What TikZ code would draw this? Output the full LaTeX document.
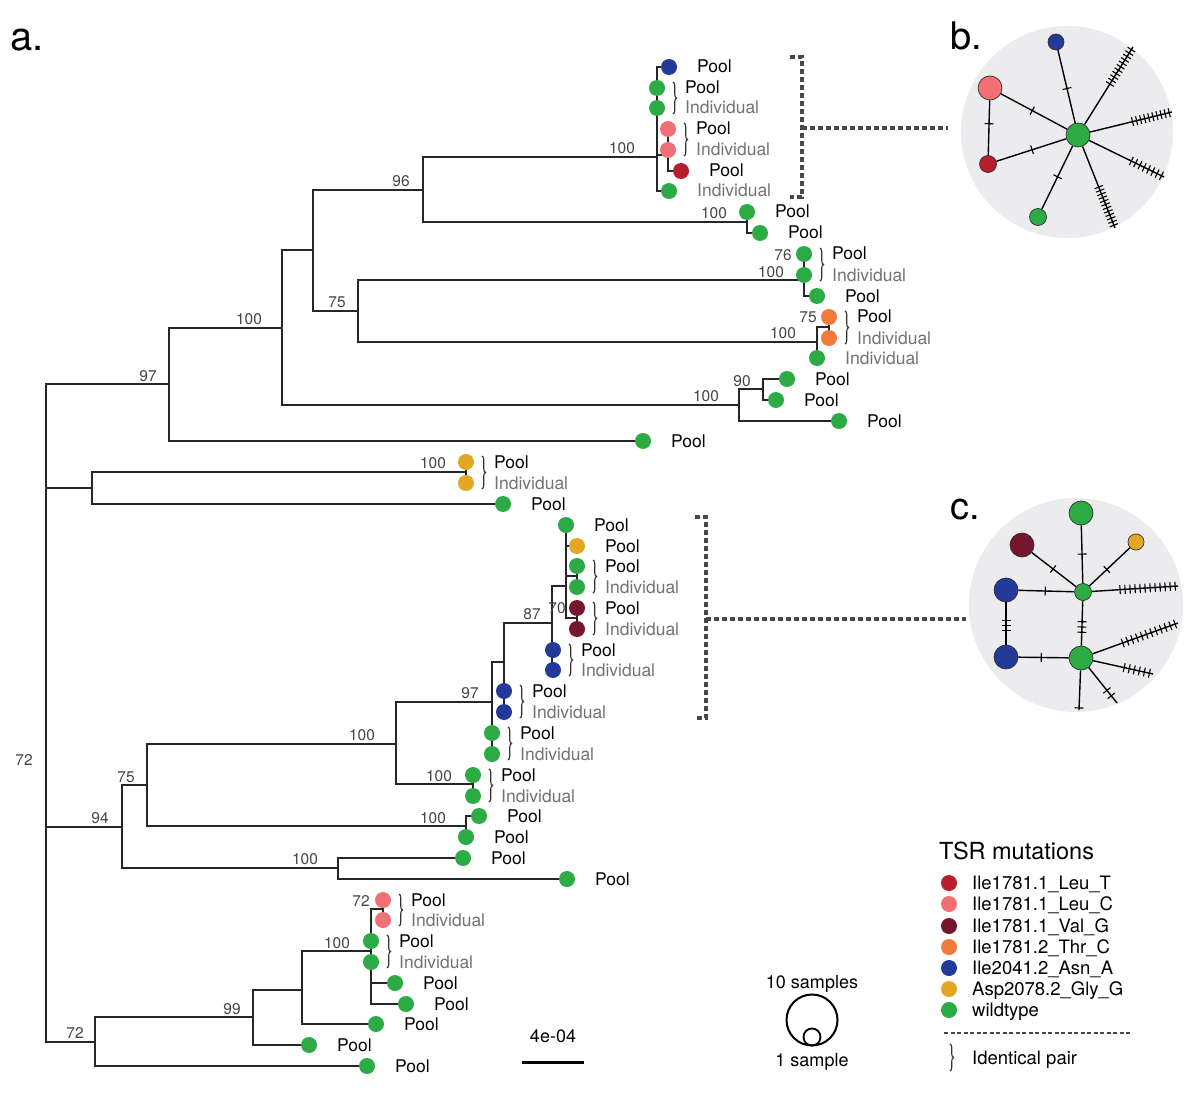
\documentclass[tikz,border=0pt]{standalone}
\usepackage{fontspec}
\setmainfont{TeX Gyre Heros}
\usetikzlibrary{calc,decorations.pathreplacing}
\definecolor{cgreen}{RGB}{44,170,68}
\definecolor{cblue}{RGB}{36,58,152}
\definecolor{cpink}{RGB}{240,112,118}
\definecolor{cred}{RGB}{183,30,45}
\definecolor{cdred}{RGB}{118,22,45}
\definecolor{corange}{RGB}{240,122,58}
\definecolor{cyellow}{RGB}{226,168,35}
\definecolor{bsgray}{RGB}{70,70,70}
\definecolor{indgray}{RGB}{115,115,115}
\definecolor{panelbg}{RGB}{236,235,237}
\definecolor{dashgray}{RGB}{70,70,70}
\newcommand\hatch[5]{%
  \foreach \hk in {1,...,#5}{%
    \pgfmathsetmacro\hfr{#3+(\hk-1)*(#4-#3)/max(#5-1,1)}%
    \draw[hatchline] ($(#1)!\hfr!(#2)!4.5pt!90:(#2)$) -- ($(#1)!\hfr!(#2)!4.5pt!-90:(#2)$);
  }}
\begin{document}
\begin{tikzpicture}[x=1pt,y=-1pt,
  branch/.style={draw=black!85, line width=1.4pt, line cap=rect},
  leafdot/.style={circle, minimum size=16pt, inner sep=0pt, draw=none},
  pooltxt/.style={anchor=base west, font=\fontsize{17.5}{20}\selectfont, text=black, inner sep=0pt},
  indtxt/.style={pooltxt, text=indgray},
  bstxt/.style={anchor=base, font=\fontsize{15.5}{17}\selectfont, text=bsgray, inner sep=0pt},
  idbrace/.style={decorate, decoration={brace, amplitude=3.5pt}, draw=black!80, line width=1.1pt},
  dashbr/.style={draw=dashgray, line width=3.6pt, dash pattern=on 5pt off 3pt},
  netedge/.style={draw=black, line width=1.4pt},
  hatchline/.style={draw=black, line width=1.1pt},
  netnode/.style={circle, draw=black!80, line width=0.7pt, inner sep=0pt},
  panelletter/.style={font=\fontsize{38}{40}\selectfont, anchor=base west, inner sep=0pt},
  legtxt/.style={font=\fontsize{18.5}{20}\selectfont, anchor=base west, inner sep=0pt},
  ctxt/.style={font=\fontsize{18}{20}\selectfont, anchor=base, inner sep=0pt}]
\useasboundingbox (0,0) rectangle (1200,1102);
\fill[white] (0,0) rectangle (1200,1102);

% ---------- tree coordinates ----------
\foreach \n/\x/\y in {R/46/713, N97/169/384, N2/92/488, N94/122/827, N72/95/1042,
  N100a/282/328, Nx/313/250, N96/423/190, N100top/657/157, Npink/668/155,
  N100c/747/222, N75a/358/311, N100d/804/280, N100e/817/342, N75b/829/327,
  N100b/739/405, N90/763/389, N100f/466/472, N75c/147/785, N100g/338/868,
  N100h/396/744, N97b/492/702, Nb2/504/662, N87/552/623, Nd/566/586,
  N25/577/576, N70/577/618, N100j/473/784, N100i/466/826, N99/253/1017,
  Ny/302/990, N100k/371/951, N72b/383/909,
  L1/669/67, L2/657/88, L3/657/108, L4/668/129, L5/668/150, L6/681/171, L7/669/191,
  L8/747/212, L9/760/233, L10/804/254, L11/804/275, L12/817/296, L13/829/317,
  L14/829/338, L15/817/358, L16/787/379, L17/776/400, L18/839/421, L19/643/441,
  L20/466/462, L21/466/483, L22/503/504, L23/566/525, L24/577/546, L25/577/566,
  L26/577/587, L27/577/608, L28/577/629, L29/553/650, L30/553/670, L31/504/691,
  L32/504/712, L33/492/733, L34/492/754, L35/473/775, L36/473/796, L37/479/816,
  L38/466/837, L39/463/858, L40/567/879, L41/383/900, L42/383/920, L43/371/941,
  L44/371/962, L45/395/983, L46/406/1004, L47/376/1024, L48/309/1045, L49/367/1066}
  \coordinate (\n) at (\x,\y);

% ---------- tree branches ----------
\foreach \p/\c in {R/N97, R/N2, R/N94, R/N72,
  N97/N100a, N97/L19, N100a/Nx, N100a/N100b, Nx/N96, Nx/N75a,
  N96/N100top, N96/N100c,
  N100top/L1, N100top/L2, N100top/L3, N100top/Npink, N100top/L7,
  Npink/L4, Npink/L5, Npink/L6, N100c/L8, N100c/L9,
  N75a/N100d, N75a/N100e, N100d/L10, N100d/L11, N100d/L12,
  N100e/N75b, N100e/L15, N75b/L13, N75b/L14,
  N100b/N90, N100b/L18, N90/L16, N90/L17,
  N2/N100f, N2/L22, N100f/L20, N100f/L21,
  N94/N75c, N94/N100g, N75c/N100h, N75c/N100i,
  N100h/N97b, N100h/N100j, N97b/Nb2, N97b/L33, N97b/L34,
  Nb2/N87, Nb2/L31, Nb2/L32, N87/Nd, N87/L29, N87/L30,
  Nd/L23, Nd/L24, Nd/N25, Nd/N70, N25/L25, N25/L26, N70/L27, N70/L28,
  N100j/L35, N100j/L36, N100i/L37, N100i/L38, N100g/L39, N100g/L40,
  N72/N99, N72/L49, N99/Ny, N99/L48, Ny/N100k, Ny/L47,
  N100k/N72b, N100k/L43, N100k/L44, N100k/L45, N100k/L46,
  N72b/L41, N72b/L42}
  \draw[branch] (\p) |- (\c);

% ---------- leaf dots ----------
\foreach \n/\c in {L1/cblue, L2/cgreen, L3/cgreen, L4/cpink, L5/cpink, L6/cred, L7/cgreen,
  L8/cgreen, L9/cgreen, L10/cgreen, L11/cgreen, L12/cgreen, L13/corange, L14/corange,
  L15/cgreen, L16/cgreen, L17/cgreen, L18/cgreen, L19/cgreen, L20/cyellow, L21/cyellow,
  L22/cgreen, L23/cgreen, L24/cyellow, L25/cgreen, L26/cgreen, L27/cdred, L28/cdred,
  L29/cblue, L30/cblue, L31/cblue, L32/cblue, L33/cgreen, L34/cgreen, L35/cgreen,
  L36/cgreen, L37/cgreen, L38/cgreen, L39/cgreen, L40/cgreen, L41/cpink, L42/cpink,
  L43/cgreen, L44/cgreen, L45/cgreen, L46/cgreen, L47/cgreen, L48/cgreen, L49/cgreen}
  \node[leafdot, fill=\c] (d\n) at (\n) {};

% ---------- leaf labels ----------
\foreach \n in {L1,L2,L4,L6,L8,L9,L10,L12,L13,L16,L17,L18,L19,L20,L22,L23,L24,L25,L27,
  L29,L31,L33,L35,L37,L38,L39,L40,L41,L43,L45,L46,L47,L48,L49}
  \node[pooltxt] (t\n) at ($(\n)+(28,6)$) {Pool};
\foreach \n in {L3,L5,L7,L11,L14,L15,L21,L26,L28,L30,L32,L34,L36,L42,L44}
  \node[indtxt] (t\n) at ($(\n)+(28,6)$) {Individual};

% ---------- identical-pair braces ----------
\foreach \a/\b in {L2/L3, L4/L5, L10/L11, L13/L14, L20/L21, L25/L26, L27/L28,
  L29/L30, L31/L32, L33/L34, L35/L36, L41/L42, L43/L44}
  \draw[idbrace] ($(\a)+(16,-6)$) -- ($(\b)+(16,6)$);

% ---------- bootstrap values ----------
\foreach \x/\y/\t [count=\i] in {622/148/100, 401/181/96, 714/213/100, 783/255/76,
  771/272/100, 337/302/75, 808/317/75, 783/333/100, 249/319/100, 148/376/97,
  742/381/90, 706/396/100, 433/463/100, 532/614/87, 557/608/70, 470/693/97,
  362/735/100, 439/776/100, 126/777/75, 433/818/100, 100/818/94, 305/859/100,
  361/901/72, 337/943/100, 232/1009/99, 75/1033/72, 24/760/72}
  \node[bstxt] (bs\i) at (\x,\y+5.5) {\t};

% ---------- panel letters ----------
\node[panelletter, font=\fontsize{40}{42}\selectfont] (la) at (10,51) {a.};
\node[panelletter] (lb) at (950,50) {b.};
\node[panelletter] (lc) at (950,519) {c.};

% ---------- dashed brackets ----------
\coordinate (bt1) at (790,57); \coordinate (bt2) at (802,57);
\coordinate (bb1) at (790,197); \coordinate (bb2) at (802,197);
\coordinate (bm) at (802,128);
\coordinate (ct1) at (695,517); \coordinate (ct2) at (706,517);
\coordinate (cb1) at (695,718); \coordinate (cb2) at (706,718);
\coordinate (cm) at (706,619);

\node[circle, fill=panelbg, minimum size=212pt, inner sep=0pt] (bpanel) at (1067,132) {};
\node[circle, fill=panelbg, minimum size=214pt, inner sep=0pt] (cpanel) at (1076,605) {};

\draw[dashbr] (bt1) -- (bt2) -- (bb2) -- (bb1);
\draw[dashbr] (bm) -- ($(bm -| bpanel.west)+(-13,0)$);
\draw[dashbr] (ct1) -- (ct2) -- (cb2) -- (cb1);
\draw[dashbr] (cm) -- ($(cm -| cpanel.west)+(-3,0)$);

% ---------- network b ----------
\node[netnode, fill=cgreen, minimum size=24pt] (b0) at (1078,135) {};
\node[netnode, fill=cblue, minimum size=16pt] (bbl) at (1056,42) {};
\node[netnode, fill=cpink, minimum size=24pt] (bpk) at (990,88) {};
\node[netnode, fill=cred, minimum size=17pt] (brd) at (988,164) {};
\node[netnode, fill=cgreen, minimum size=17pt] (bgs) at (1038,217) {};
\coordinate (be1) at (1133,47);
\coordinate (be2) at (1172,112);
\coordinate (be3) at (1164,177);
\coordinate (be4) at (1115,228);
\foreach \u/\v in {b0/bbl, b0/bpk, bpk/brd, b0/brd, b0/bgs, b0/be1, b0/be2, b0/be3, b0/be4}
  \draw[netedge] (\u) -- (\v);
\hatch{b0}{bbl}{0.5}{0.5}{1}
\hatch{b0}{bpk}{0.52}{0.52}{1}
\hatch{bpk}{brd}{0.47}{0.47}{1}
\hatch{b0}{brd}{0.51}{0.51}{1}
\hatch{b0}{bgs}{0.51}{0.51}{1}
\hatch{b0}{be1}{0.58}{0.97}{11}
\hatch{b0}{be2}{0.58}{0.97}{10}
\hatch{b0}{be3}{0.62}{0.97}{8}
\hatch{b0}{be4}{0.56}{0.97}{12}

% ---------- network c ----------
\node[netnode, fill=cgreen, minimum size=17pt] (c0) at (1083,592) {};
\node[netnode, fill=cgreen, minimum size=24pt] (ctp) at (1081,513) {};
\node[netnode, fill=cdred, minimum size=24pt] (cdr) at (1022,545) {};
\node[netnode, fill=cyellow, minimum size=16pt] (cyl) at (1136,542) {};
\node[netnode, fill=cblue, minimum size=24pt] (cbu) at (1006,590) {};
\node[netnode, fill=cblue, minimum size=24pt] (cbd) at (1006,657) {};
\node[netnode, fill=cgreen, minimum size=24pt] (cgl) at (1081,658) {};
\coordinate (ce1) at (1178,586);
\coordinate (ce2) at (1178,623);
\coordinate (ce3) at (1153,674);
\coordinate (ce4) at (1117,703);
\coordinate (ce5) at (1079,710);
\foreach \u/\v in {c0/ctp, c0/cdr, c0/cyl, c0/cbu, c0/cgl, cbu/cbd, cbd/cgl,
  c0/ce1, cgl/ce2, cgl/ce3, cgl/ce4, cgl/ce5}
  \draw[netedge] (\u) -- (\v);
\hatch{c0}{ctp}{0.48}{0.48}{1}
\hatch{c0}{cdr}{0.49}{0.49}{1}
\hatch{c0}{cyl}{0.45}{0.45}{1}
\hatch{c0}{cbu}{0.49}{0.49}{1}
\hatch{c0}{cgl}{0.45}{0.61}{3}
\hatch{cbu}{cbd}{0.45}{0.6}{3}
\hatch{cbd}{cgl}{0.47}{0.47}{1}
\hatch{c0}{ce1}{0.39}{0.97}{12}
\hatch{cgl}{ce2}{0.43}{0.97}{12}
\hatch{cgl}{ce3}{0.6}{0.95}{6}
\hatch{cgl}{ce4}{0.72}{0.84}{2}
\hatch{cgl}{ce5}{0.96}{0.96}{1}

% ---------- legend ----------
\node[font=\fontsize{23.5}{25}\selectfont, anchor=base west, inner sep=0pt] (lgt) at (939,859) {TSR mutations};
\foreach \y/\c/\t [count=\i] in {883/cred/{Ile1781.1\_Leu\_T}, 904/cpink/{Ile1781.1\_Leu\_C},
  926/cdred/{Ile1781.1\_Val\_G}, 947/corange/{Ile1781.2\_Thr\_C},
  968/cblue/{Ile2041.2\_Asn\_A}, 989/cyellow/{Asp2078.2\_Gly\_G}, 1010/cgreen/{wildtype}}{
  \node[leafdot, fill=\c] (lg\i) at (949,\y) {};
  \node[legtxt] (lgt\i) at (972,\y+6.5) {\t};
}
\coordinate (ld1) at (944,1033); \coordinate (ld2) at (1131,1033);
\draw[draw=dashgray, line width=2.6pt, dash pattern=on 4pt off 2.5pt] (ld1) -- (ld2);
\coordinate (lb1) at (950,1044); \coordinate (lb2) at (950,1071);
\draw[idbrace] (lb1) -- (lb2);
\node[legtxt] (lip) at (972,1064) {Identical pair};

% ---------- size legend ----------
\node[circle, draw=black, line width=2pt, minimum size=51pt, inner sep=0pt] (big) at (812,1020) {};
\node[circle, draw=black, line width=1.8pt, minimum size=17pt, inner sep=0pt] (small) at (812,1037) {};
\node[ctxt] (s10) at (812,988) {10 samples};
\node[ctxt] (s1) at (812,1066) {1 sample};

% ---------- scale bar ----------
\coordinate (sb1) at (522,1062); \coordinate (sb2) at (584,1062);
\draw[line width=3pt] (sb1) -- (sb2);
\node[ctxt] (sbt) at (553,1042) {4e-04};
\end{tikzpicture}
\end{document}
